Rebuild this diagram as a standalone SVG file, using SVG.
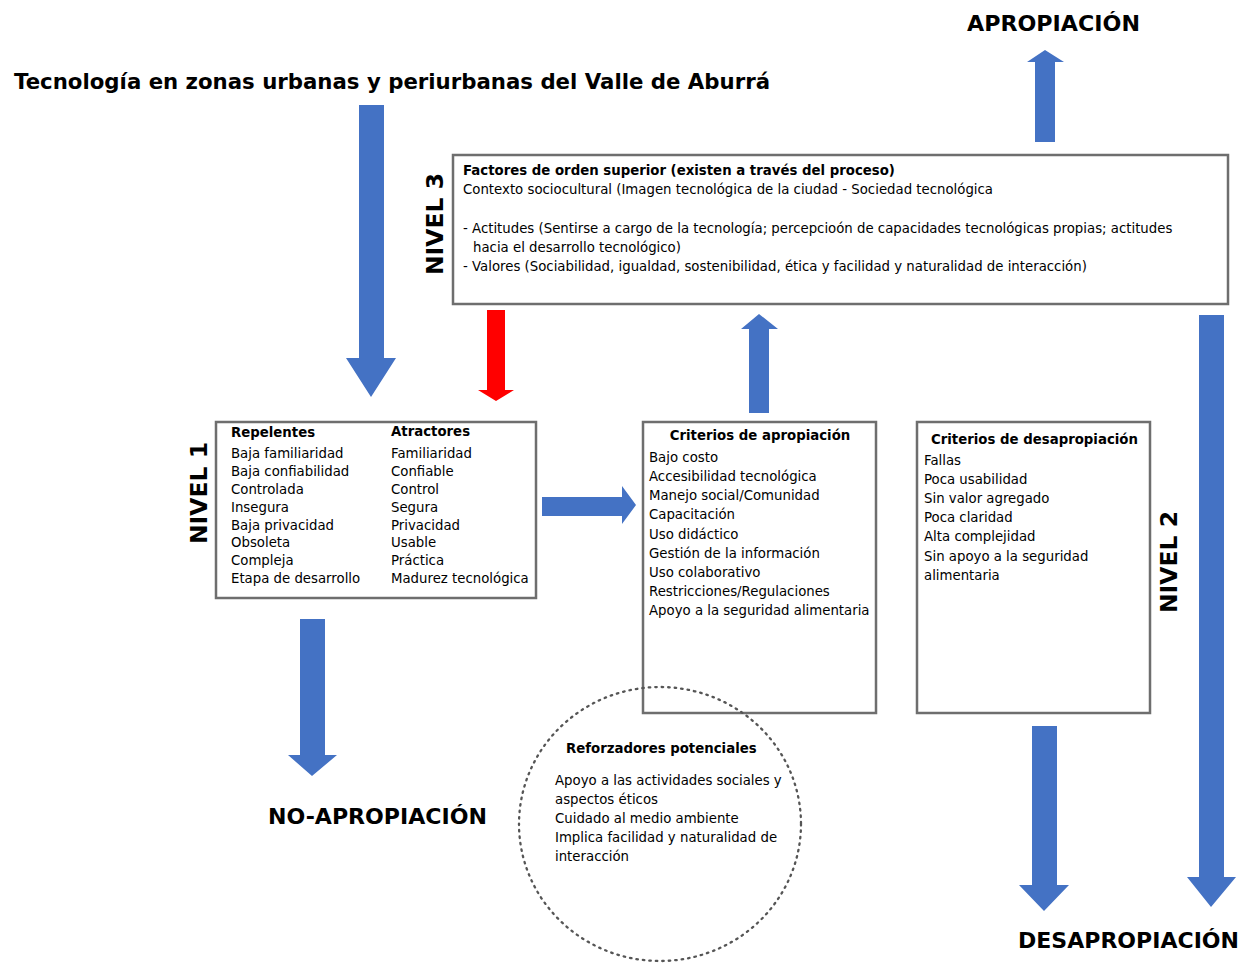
<svg xmlns="http://www.w3.org/2000/svg" width="1243" height="963" viewBox="0 0 1243 963">
  <style>
    .t { font-family: "DejaVu Sans", Verdana, sans-serif; font-size: 13.3px; fill: #000; }
    .b { font-weight: bold; }
    .big { font-family: "DejaVu Sans", Verdana, sans-serif; font-size: 22px; font-weight: bold; fill: #000; }
    .lvl { font-family: "DejaVu Sans", Verdana, sans-serif; font-size: 23.5px; font-weight: bold; fill: #000; }
    .box { fill: #fff; stroke: #6e6e6e; stroke-width: 2.5; }
    .blue { fill: #4472C4; }
    .red { fill: #FF0000; }
  </style>
  <rect width="1243" height="963" fill="#fff"/>

  <!-- headings -->
  <g id="title">
    <text class="big" x="14" y="89" textLength="756" lengthAdjust="spacingAndGlyphs">Tecnología en zonas urbanas y periurbanas del Valle de Aburrá</text>
  </g>
  <g id="apropiacion">
    <text class="big" x="967" y="31" textLength="173" lengthAdjust="spacingAndGlyphs">APROPIACIÓN</text>
  </g>
  <g id="no-apropiacion">
    <text class="big" x="268" y="824" textLength="219" lengthAdjust="spacingAndGlyphs">NO-APROPIACIÓN</text>
  </g>
  <g id="desapropiacion">
    <text class="big" x="1018" y="948" textLength="221" lengthAdjust="spacingAndGlyphs">DESAPROPIACIÓN</text>
  </g>

  <!-- block arrows -->
  <g id="connectors">
    <polygon class="blue" points="359,105 384,105 384,358 396,358 371,397 346,358 359,358"/>
    <polygon class="red" points="487,310 505,310 505,390 514,390 496,401 478,390 487,390"/>
    <polygon class="blue" points="749,413 769,413 769,329 778,329 759,314 741,329 749,329"/>
    <polygon class="blue" points="1035,142 1055,142 1055,62 1064,62 1045,50 1027,62 1035,62"/>
    <polygon class="blue" points="542,497 622,497 622,486 636,505 622,524 622,516 542,516"/>
    <polygon class="blue" points="300,619 325,619 325,755 337,755 312,776 288,755 300,755"/>
    <polygon class="blue" points="1032,726 1057,726 1057,885 1069,885 1044,911 1019,885 1032,885"/>
    <polygon class="blue" points="1199,315 1224,315 1224,877 1236,877 1211,907 1187,877 1199,877"/>
  </g>

  <!-- level 3 -->
  <g id="nivel3">
    <rect class="box" x="453" y="155" width="775" height="149" stroke-width="3"/>
    <text class="t b" x="463" y="175">Factores de orden superior (existen a través del proceso)</text>
    <text class="t" x="463" y="194">Contexto sociocultural (Imagen tecnológica de la ciudad - Sociedad tecnológica</text>
    <text class="t" x="463" y="233">- Actitudes (Sentirse a cargo de la tecnología; percepcioón de capacidades tecnológicas propias; actitudes</text>
    <text class="t" x="473" y="252">hacia el desarrollo tecnológico)</text>
    <text class="t" x="463" y="271">- Valores (Sociabilidad, igualdad, sostenibilidad, ética y facilidad y naturalidad de interacción)</text>
    <text class="lvl" transform="translate(443,224) rotate(-90)" text-anchor="middle">NIVEL 3</text>
  </g>

  <!-- level 1 -->
  <g id="nivel1">
    <rect class="box" x="216" y="422" width="320" height="176"/>
    <text class="t b" x="231" y="437">Repelentes</text>
    <text class="t b" x="391" y="436">Atractores</text>
    <text class="t" x="231" y="458">Baja familiaridad</text>
    <text class="t" x="231" y="476">Baja confiabilidad</text>
    <text class="t" x="231" y="494">Controlada</text>
    <text class="t" x="231" y="512">Insegura</text>
    <text class="t" x="231" y="530">Baja privacidad</text>
    <text class="t" x="231" y="547">Obsoleta</text>
    <text class="t" x="231" y="565">Compleja</text>
    <text class="t" x="231" y="583">Etapa de desarrollo</text>
    <text class="t" x="391" y="458">Familiaridad</text>
    <text class="t" x="391" y="476">Confiable</text>
    <text class="t" x="391" y="494">Control</text>
    <text class="t" x="391" y="512">Segura</text>
    <text class="t" x="391" y="530">Privacidad</text>
    <text class="t" x="391" y="547">Usable</text>
    <text class="t" x="391" y="565">Práctica</text>
    <text class="t" x="391" y="583">Madurez tecnológica</text>
    <text class="lvl" transform="translate(207,493) rotate(-90)" text-anchor="middle">NIVEL 1</text>
  </g>

  <!-- level 2: appropriation criteria -->
  <g id="criterios-apropiacion">
    <rect class="box" x="643" y="422" width="233" height="291"/>
    <text class="t b" x="760" y="440" text-anchor="middle">Criterios de apropiación</text>
    <text class="t" x="649" y="462">Bajo costo</text>
    <text class="t" x="649" y="481">Accesibilidad tecnológica</text>
    <text class="t" x="649" y="500">Manejo social/Comunidad</text>
    <text class="t" x="649" y="519">Capacitación</text>
    <text class="t" x="649" y="539">Uso didáctico</text>
    <text class="t" x="649" y="558">Gestión de la información</text>
    <text class="t" x="649" y="577">Uso colaborativo</text>
    <text class="t" x="649" y="596">Restricciones/Regulaciones</text>
    <text class="t" x="649" y="615">Apoyo a la seguridad alimentaria</text>
  </g>

  <!-- level 2: disappropriation criteria -->
  <g id="criterios-desapropiacion">
    <rect class="box" x="917" y="422" width="233" height="291"/>
    <text class="t b" x="931" y="444">Criterios de desapropiación</text>
    <text class="t" x="924" y="465">Fallas</text>
    <text class="t" x="924" y="484">Poca usabilidad</text>
    <text class="t" x="924" y="503">Sin valor agregado</text>
    <text class="t" x="924" y="522">Poca claridad</text>
    <text class="t" x="924" y="541">Alta complejidad</text>
    <text class="t" x="924" y="561">Sin apoyo a la seguridad</text>
    <text class="t" x="924" y="580">alimentaria</text>
    <text class="lvl" transform="translate(1177,562) rotate(-90)" text-anchor="middle">NIVEL 2</text>
  </g>

  <!-- potential reinforcers -->
  <g id="reforzadores">
    <ellipse cx="660" cy="824" rx="141" ry="137" fill="none" stroke="#555" stroke-width="2.3" stroke-dasharray="1.5 5" stroke-linecap="round"/>
    <text class="t b" x="566" y="753">Reforzadores potenciales</text>
    <text class="t" x="555" y="785">Apoyo a las actividades sociales y</text>
    <text class="t" x="555" y="804">aspectos éticos</text>
    <text class="t" x="555" y="823">Cuidado al medio ambiente</text>
    <text class="t" x="555" y="842">Implica facilidad y naturalidad de</text>
    <text class="t" x="555" y="861">interacción</text>
  </g>
</svg>
